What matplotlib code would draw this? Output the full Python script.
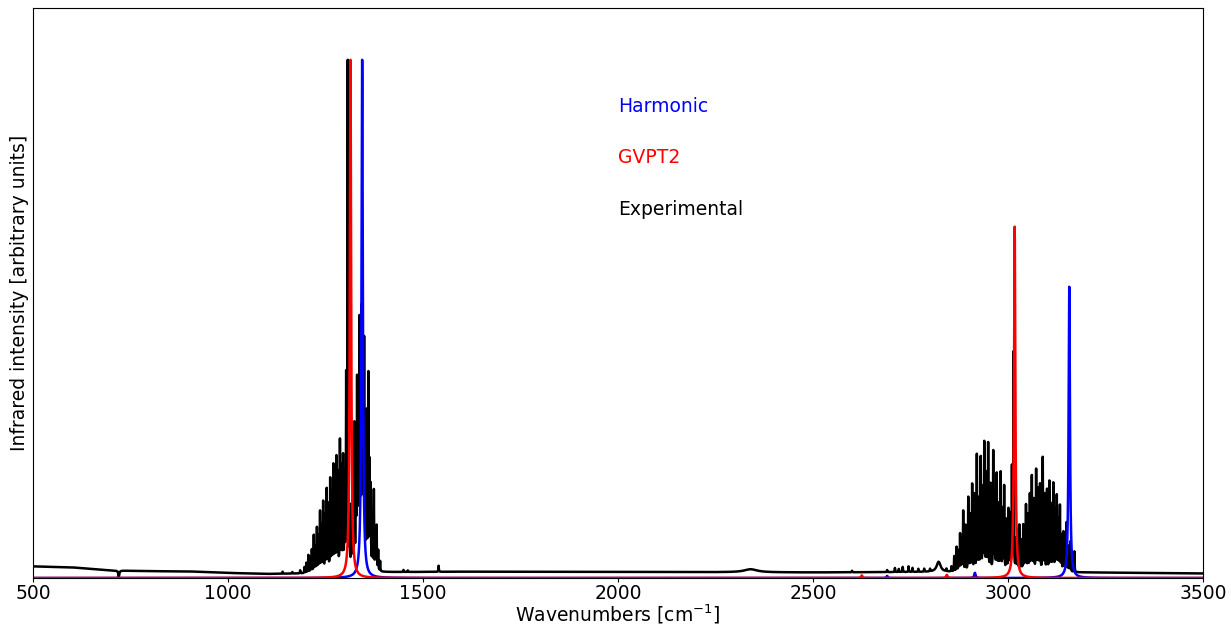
import numpy as np
import matplotlib
matplotlib.use("Agg")
import matplotlib.pyplot as plt

# ---------------------------------------------------------------------------
# Spectral data (wavenumbers in cm^-1, relative intensities)
# ---------------------------------------------------------------------------

# Harmonic calculation: band positions and relative intensities
harm_pos = [1344.0, 2690.0, 2915.0, 3157.0]
harm_int = [1.000, 0.004, 0.010, 0.562]

# GVPT2 anharmonic calculation
gvpt2_pos = [1314.0, 2625.0, 2843.0, 3017.0]
gvpt2_int = [1.000, 0.005, 0.006, 0.678]

# Experimental gas-phase spectrum: resolved rovibrational lines
exp_line_pos = [
    # nu4 bending band: P branch
    1140, 1165, 1185, 1196, 1201, 1206, 1211, 1215, 1220, 1224, 1228, 1232,
    1236, 1240, 1244, 1249, 1253, 1257, 1262, 1266, 1270, 1274, 1278, 1282,
    1287, 1291, 1295, 1299, 1303,
    # nu4 Q branch
    1307,
    # nu4 R branch
    1312, 1316, 1320, 1324, 1328, 1331, 1334, 1337, 1340, 1343, 1346, 1349,
    1352, 1356, 1360, 1363, 1366, 1370, 1374, 1378, 1381, 1385, 1390,
    # weak features between the fundamentals
    1450, 1461, 1540, 2600, 2690, 2710, 2720, 2730, 2745, 2755, 2770,
    2785, 2800, 2842, 2855,
    # nu3 stretching band: P branch
    2862, 2868, 2873, 2877, 2881, 2885, 2891, 2898, 2903, 2908, 2914, 2920,
    2925, 2930, 2935, 2939, 2944, 2949, 2955, 2962, 2966, 2971, 2976, 2981,
    2986, 2990, 2996, 3001, 3005, 3010,
    # nu3 Q branch
    3014,
    # nu3 R branch
    3020, 3024, 3029, 3034, 3039, 3043, 3046, 3051, 3056, 3061, 3066, 3072,
    3077, 3082, 3089, 3094, 3100, 3106, 3111, 3116, 3121, 3125, 3129, 3133,
    3137, 3142, 3146, 3150, 3155, 3160, 3170,
]
exp_line_int = [
    0.004, 0.003, 0.006, 0.012, 0.020, 0.035, 0.030, 0.045, 0.073, 0.050,
    0.087, 0.070, 0.118, 0.090, 0.137, 0.110, 0.160, 0.130, 0.180, 0.150,
    0.205, 0.170, 0.220, 0.190, 0.253, 0.200, 0.220, 0.180, 0.370,
    1.000,
    0.080, 0.120, 0.200, 0.280, 0.250, 0.357, 0.300, 0.470, 0.330, 0.490,
    0.360, 0.430, 0.280, 0.300, 0.376, 0.200, 0.160, 0.110, 0.156, 0.080,
    0.087, 0.040, 0.020,
    0.004, 0.003, 0.012, 0.003, 0.004, 0.008, 0.006, 0.010, 0.011, 0.008,
    0.006, 0.006, 0.005, 0.005, 0.010,
    0.030, 0.048, 0.040, 0.073, 0.060, 0.118, 0.090, 0.145, 0.110, 0.170,
    0.150, 0.228, 0.140, 0.222, 0.160, 0.250, 0.190, 0.250, 0.170, 0.234,
    0.150, 0.190, 0.130, 0.193, 0.120, 0.166, 0.100, 0.120, 0.110, 0.200,
    0.430,
    0.060, 0.080, 0.090, 0.060, 0.090, 0.070, 0.128, 0.110, 0.150, 0.186,
    0.140, 0.199, 0.160, 0.170, 0.223, 0.150, 0.160, 0.176, 0.130, 0.172,
    0.120, 0.147, 0.100, 0.128, 0.070, 0.077, 0.060, 0.096, 0.050, 0.060,
    0.041,
]

# Broad features of the experimental trace (position, height, half-width)
exp_broad_pos = [720, 2340, 2822]
exp_broad_int = [-0.013, 0.006, 0.020]
exp_broad_hwhm = [1.5, 20.0, 6.0]

# Experimental baseline level
baseline_wn = [500, 600, 700, 800, 900, 1000, 1100, 1200, 1400, 1600,
               2000, 2500, 2800, 3200, 3500]
baseline_lv = [0.023, 0.021, 0.015, 0.0135, 0.013, 0.010, 0.008, 0.009,
               0.0115, 0.0125, 0.012, 0.011, 0.012, 0.011, 0.009]

# Line-shape half widths (cm^-1)
calc_hwhm = 2.0
exp_hwhm = 0.6


def lorentzian_sum(grid, positions, heights, hwhm):
    """Sum of peak-height-normalised Lorentzian profiles."""
    y = np.zeros_like(grid)
    hw = np.broadcast_to(np.asarray(hwhm, dtype=float), (len(positions),))
    for p, h, g in zip(positions, heights, hw):
        y += h / (1.0 + ((grid - p) / g) ** 2)
    return y


# calculated spectra on a fine grid, measured spectrum at 1 cm^-1 sampling
wn_calc = np.arange(500.0, 3500.0 + 0.05, 0.1)
wn_exp = np.arange(500.0, 3501.0, 1.0)

harmonic = lorentzian_sum(wn_calc, harm_pos, harm_int, calc_hwhm)
harmonic /= harmonic.max()

gvpt2 = lorentzian_sum(wn_calc, gvpt2_pos, gvpt2_int, calc_hwhm)
gvpt2 /= gvpt2.max()

experimental = (np.interp(wn_exp, baseline_wn, baseline_lv)
                + lorentzian_sum(wn_exp, exp_line_pos, exp_line_int, exp_hwhm)
                + lorentzian_sum(wn_exp, exp_broad_pos, exp_broad_int,
                                 exp_broad_hwhm))
experimental /= experimental.max()

# ---------------------------------------------------------------------------
# Figure
# ---------------------------------------------------------------------------
plt.rcParams["font.family"] = ["DejaVu Sans"]
plt.rcParams["font.size"] = 13.5

fig = plt.figure(figsize=(12.31, 6.25), dpi=100)
ax = fig.add_axes([0.0268, 0.0752, 0.9505, 0.912])

ax.plot(wn_exp, experimental, color="black", lw=1.8)
ax.plot(wn_calc, harmonic, color="blue", lw=1.8)
ax.plot(wn_calc, gvpt2, color="red", lw=1.8)

ax.text(2000, 0.9, "Harmonic", color="blue")
ax.text(2000, 0.8, "GVPT2", color="red")
ax.text(2000, 0.7, "Experimental", color="black")

ax.set_xlim(500, 3500)
ax.set_ylim(0, 1.1)
ax.set_xticks([500, 1000, 1500, 2000, 2500, 3000, 3500])
ax.set_yticks([])
ax.tick_params(axis="x", length=3, pad=1.5)
ax.set_xlabel(r"Wavenumbers [cm$^{-1}$]", labelpad=-0.5)
ax.set_ylabel("Infrared intensity [arbitrary units]", labelpad=3)

fig.savefig("out.png", dpi=100)
